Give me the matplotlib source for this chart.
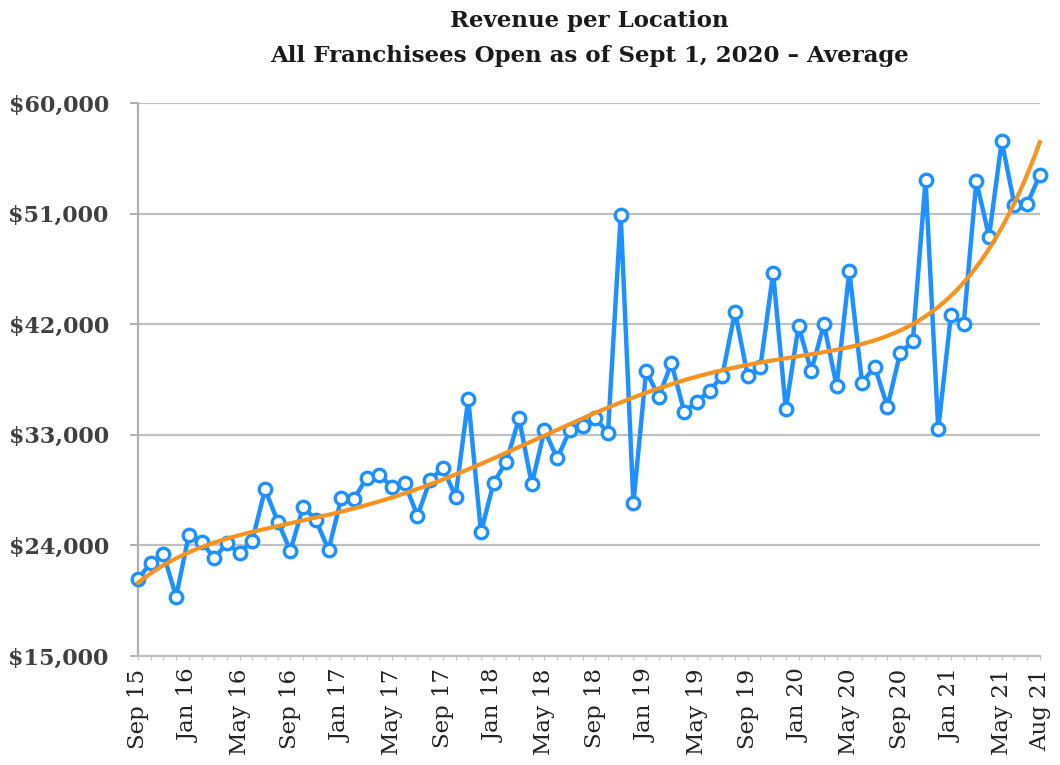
import matplotlib.pyplot as plt
import numpy as np

# monthly average revenue per location, Sep 2015 .. Aug 2021
months = ["Sep 15", "Oct 15", "Nov 15", "Dec 15",
          "Jan 16", "Feb 16", "Mar 16", "Apr 16", "May 16", "Jun 16",
          "Jul 16", "Aug 16", "Sep 16", "Oct 16", "Nov 16", "Dec 16",
          "Jan 17", "Feb 17", "Mar 17", "Apr 17", "May 17", "Jun 17",
          "Jul 17", "Aug 17", "Sep 17", "Oct 17", "Nov 17", "Dec 17",
          "Jan 18", "Feb 18", "Mar 18", "Apr 18", "May 18", "Jun 18",
          "Jul 18", "Aug 18", "Sep 18", "Oct 18", "Nov 18", "Dec 18",
          "Jan 19", "Feb 19", "Mar 19", "Apr 19", "May 19", "Jun 19",
          "Jul 19", "Aug 19", "Sep 19", "Oct 19", "Nov 19", "Dec 19",
          "Jan 20", "Feb 20", "Mar 20", "Apr 20", "May 20", "Jun 20",
          "Jul 20", "Aug 20", "Sep 20", "Oct 20", "Nov 20", "Dec 20",
          "Jan 21", "Feb 21", "Mar 21", "Apr 21", "May 21", "Jun 21",
          "Jul 21", "Aug 21"]
revenue = [21240, 22590, 23300, 19830,
           24850, 24310, 22950, 24170, 23360, 24390,
           28560, 25940, 23570, 27150, 26070, 23630,
           27830, 27750, 29510, 29730, 28780, 29050,
           26420, 29320, 30300, 27970, 35910, 25070,
           29110, 30810, 34340, 28970, 33390, 31080,
           33390, 33720, 34340, 33180, 50890, 27420,
           38190, 36110, 38810, 34880, 35700, 36570,
           37800, 43020, 37790, 38540, 46190, 35080,
           41850, 38190, 41990, 36970, 46330, 37240,
           38540, 35290, 39630, 40630, 53730, 33450,
           42750, 41990, 53650, 49120, 56910, 51700,
           51780, 54140]
tick_labels = ["Sep 15", "Jan 16", "May 16", "Sep 16", "Jan 17", "May 17",
               "Sep 17", "Jan 18", "May 18", "Sep 18", "Jan 19", "May 19",
               "Sep 19", "Jan 20", "May 20", "Sep 20", "Jan 21", "May 21",
               "Aug 21"]
y_ticks = [15000, 24000, 33000, 42000, 51000, 60000]

x = np.arange(len(months))
tick_pos = [months.index(t) for t in tick_labels]

# polynomial trendline like the spreadsheet one
coef = np.polyfit(x, revenue, 6)
xs = np.linspace(0, len(months) - 1, 300)
trend = np.polyval(coef, xs)

plt.rcParams['font.family'] = ['DejaVu Serif']

fig = plt.figure(figsize=(10.6, 7.65), dpi=100)
ax = fig.add_axes([0.1302, 0.1425, 0.8508, 0.7229])

ax.plot(x, revenue, color='#1e90ff', linewidth=3.2, marker='o', markersize=9,
        markerfacecolor='white', markeredgecolor='#1e90ff', markeredgewidth=2.4,
        zorder=3, clip_on=False)
ax.plot(xs, trend, color='#f7931e', linewidth=3.0, zorder=4, clip_on=False)

ax.set_xlim(0, len(months) - 1)
ax.set_ylim(15000, 60000)
ax.set_yticks(y_ticks)
ax.set_yticklabels(['${:,}'.format(v) for v in y_ticks], fontsize=16,
                   fontweight='bold', color='#404040')
ax.set_xticks(tick_pos)
ax.set_xticklabels(tick_labels, rotation=90, fontsize=16.5, color='#222222')
ax.set_xticks(x, minor=True)

ax.grid(axis='y', color='#c0c0c0', linewidth=1.6)
ax.set_axisbelow(True)
for s in ['top', 'right']:
    ax.spines[s].set_visible(False)
ax.spines['left'].set_color('#b0b0b0')
ax.spines['left'].set_linewidth(1.6)
ax.spines['bottom'].set_color('#c0c0c0')
ax.spines['bottom'].set_linewidth(1.6)
ax.tick_params(axis='y', length=6, width=1.4, color='#b0b0b0', pad=15)
ax.tick_params(axis='x', which='both', length=3, width=1, color='#c8c8c8', pad=6)

fig.text(0.556, 0.972, "Revenue per Location", ha='center', va='center',
         fontsize=16.5, fontweight='bold', color='#1a1a1a')
fig.text(0.556, 0.927, "All Franchisees Open as of Sept 1, 2020 \u2013 Average",
         ha='center', va='center', fontsize=16.5, fontweight='bold', color='#1a1a1a')

fig.savefig('out.png', dpi=100)
